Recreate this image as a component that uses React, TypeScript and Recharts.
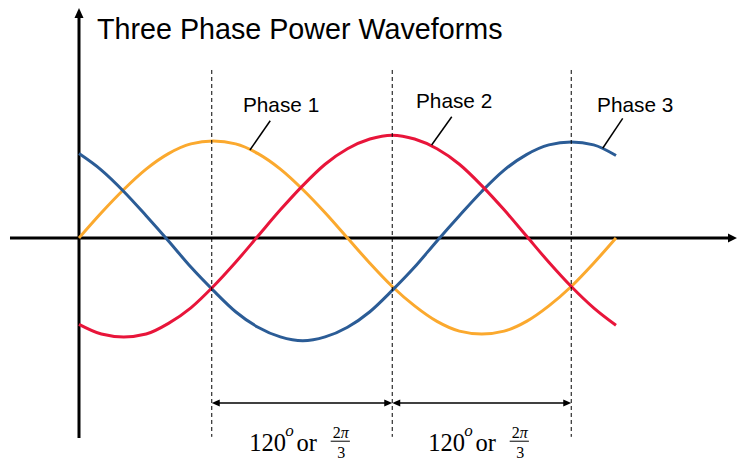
import React from 'react';
import { LineChart, Line, XAxis, YAxis, ReferenceLine, ReferenceDot } from 'recharts';

// angle (degrees) of each sample
const degrees = [0, 15, 30, 45, 60, 75, 90, 105, 120, 135, 150, 165, 180, 195, 210, 225, 240, 255, 270, 285, 300, 315, 330, 345, 360];
// 1 unit ≈ peak height of Phase 1
const phase1 = [0, 0.26, 0.5, 0.71, 0.87, 0.97, 1.0, 0.97, 0.87, 0.71, 0.5, 0.26, 0, -0.26, -0.5, -0.7, -0.86, -0.96, -0.99, -0.96, -0.86, -0.7, -0.5, -0.26, 0];
const phase2 = [-0.89, -0.99, -1.02, -0.99, -0.88, -0.72, -0.5, -0.25, 0.02, 0.29, 0.54, 0.76, 0.92, 1.02, 1.06, 1.02, 0.92, 0.76, 0.54, 0.29, 0.02, -0.25, -0.5, -0.72, -0.9];
const phase3 = [0.87, 0.7, 0.48, 0.23, -0.03, -0.3, -0.54, -0.76, -0.92, -1.02, -1.06, -1.02, -0.92, -0.76, -0.54, -0.3, -0.03, 0.23, 0.48, 0.7, 0.86, 0.96, 0.99, 0.96, 0.85];

const seriesNames = ['Phase 1', 'Phase 2', 'Phase 3'];
const seriesColors = ['#FBA92E', '#E8153A', '#2B5C96'];

// annotation anchors (in data units)
const phaseLabelPos = [
  { x: 109.9, y: 1.3 },
  { x: 225.9, y: 1.337 },
  { x: 347.3, y: 1.3 },
];
const leaderLines = [
  [{ x: 128.2, y: 1.209 }, { x: 114.6, y: 0.907 }],
  [{ x: 249.9, y: 1.25 }, { x: 236.4, y: 0.959 }],
  [{ x: 364.5, y: 1.234 }, { x: 351.1, y: 0.925 }],
];
const peakMarkers = [89, 210, 330];
const spanLabels = [114.1, 234.1];
const title = 'Three Phase Power Waveforms';

const data = degrees.map((d, i) => ({ deg: d, p1: phase1[i], p2: phase2[i], p3: phase3[i] }));

const arrowShape = (startHead: boolean, endHead: boolean, width: number, len: number, half: number) => (props: any) => {
  const { x1, y1, x2, y2 } = props;
  const dx = x2 - x1;
  const dy = y2 - y1;
  const L = Math.sqrt(dx * dx + dy * dy) || 1;
  const ux = dx / L;
  const uy = dy / L;
  const px = -uy;
  const py = ux;
  const head = (tx: number, ty: number, dirx: number, diry: number) => {
    const bx = tx - dirx * len;
    const by = ty - diry * len;
    return `${tx},${ty} ${bx + px * half},${by + py * half} ${bx - px * half},${by - py * half}`;
  };
  const sx = startHead ? x1 + ux * (len - 1) : x1;
  const sy = startHead ? y1 + uy * (len - 1) : y1;
  const ex = endHead ? x2 - ux * (len - 1) : x2;
  const ey = endHead ? y2 - uy * (len - 1) : y2;
  return (
    <g>
      <line x1={sx} y1={sy} x2={ex} y2={ey} stroke="#000" strokeWidth={width} />
      {startHead && <polygon points={head(x1, y1, -ux, -uy)} fill="#000" />}
      {endHead && <polygon points={head(x2, y2, ux, uy)} fill="#000" />}
    </g>
  );
};

const textShape = (label: string, size: number) => (props: any) => (
  <text x={props.cx} y={props.cy} fontFamily="'Liberation Sans', Arial, sans-serif" fontSize={size} fill="#000">
    {label}
  </text>
);

const mathShape = (props: any) => {
  const { cx, cy } = props;
  const ff = "'Liberation Serif', 'Times New Roman', serif";
  return (
    <g fontFamily={ff} fill="#000">
      <text x={cx} y={cy} fontSize={24.5}>120</text>
      <text x={cx + 36} y={cy - 15.5} fontSize={17} fontStyle="italic">o</text>
      <text x={cx + 47.4} y={cy} fontSize={24.5}>or</text>
      <text x={cx + 91.5} y={cy - 12.7} fontSize={16} textAnchor="middle">
        2<tspan fontStyle="italic">π</tspan>
      </text>
      <line x1={cx + 81.5} y1={cy - 9.8} x2={cx + 100.7} y2={cy - 9.8} stroke="#000" strokeWidth={1} />
      <text x={cx + 92} y={cy + 6.7} fontSize={16} textAnchor="middle">3</text>
    </g>
  );
};

export default function App() {
  return (
    <div style={{ position: 'absolute', left: 0, top: 0, width: 738, height: 463, background: '#fff' }}>
      <LineChart width={738} height={463} data={data} margin={{ top: 0, right: 0, bottom: 0, left: 0 }}>
        <XAxis type="number" dataKey="deg" domain={[-52.96, 441.79]} hide allowDataOverflow />
        <YAxis type="number" domain={[-2.3196, 2.4536]} hide allowDataOverflow />

        {/* axes */}
        <ReferenceLine segment={[{ x: 0, y: -2.062 }, { x: 0, y: 2.371 }]} shape={arrowShape(false, true, 3, 10, 4.5)} />
        <ReferenceLine segment={[{ x: -46.26, y: 0 }, { x: 441.1, y: 0 }]} shape={arrowShape(false, true, 3, 9, 4.5)} />

        <Line dataKey="p1" name={seriesNames[0]} stroke={seriesColors[0]} strokeWidth={3} dot={false} activeDot={false} type="monotone" isAnimationActive={false} />
        <Line dataKey="p3" name={seriesNames[2]} stroke={seriesColors[2]} strokeWidth={3} dot={false} activeDot={false} type="monotone" isAnimationActive={false} />
        <Line dataKey="p2" name={seriesNames[1]} stroke={seriesColors[1]} strokeWidth={3} dot={false} activeDot={false} type="monotone" isAnimationActive={false} />

        {/* dashed peak markers */}
        {peakMarkers.map((m) => (
          <ReferenceLine key={`pk${m}`} segment={[{ x: m, y: 1.732 }, { x: m, y: -2.05 }]} stroke="#000" strokeWidth={1} strokeDasharray="4 3" />
        ))}

        {/* 120 degree spans */}
        <ReferenceLine segment={[{ x: peakMarkers[0], y: -1.701 }, { x: peakMarkers[1], y: -1.701 }]} shape={arrowShape(true, true, 1.6, 8, 3.5)} />
        <ReferenceLine segment={[{ x: peakMarkers[1], y: -1.701 }, { x: peakMarkers[2], y: -1.701 }]} shape={arrowShape(true, true, 1.6, 8, 3.5)} />

        {/* leader lines */}
        {leaderLines.map((seg, i) => (
          <ReferenceLine key={`ld${i}`} segment={seg} stroke="#000" strokeWidth={1.5} />
        ))}

        {/* phase labels */}
        {phaseLabelPos.map((p, i) => (
          <ReferenceDot key={`pl${i}`} x={p.x} y={p.y} r={0} shape={textShape(seriesNames[i], 20.8)} />
        ))}

        {/* title */}
        <ReferenceDot x={12.07} y={2.047} r={0} shape={textShape(title, 28.7)} />

        {/* span labels */}
        {spanLabels.map((s) => (
          <ReferenceDot key={`sl${s}`} x={s} y={-2.196} r={0} shape={mathShape} />
        ))}
      </LineChart>
    </div>
  );
}
